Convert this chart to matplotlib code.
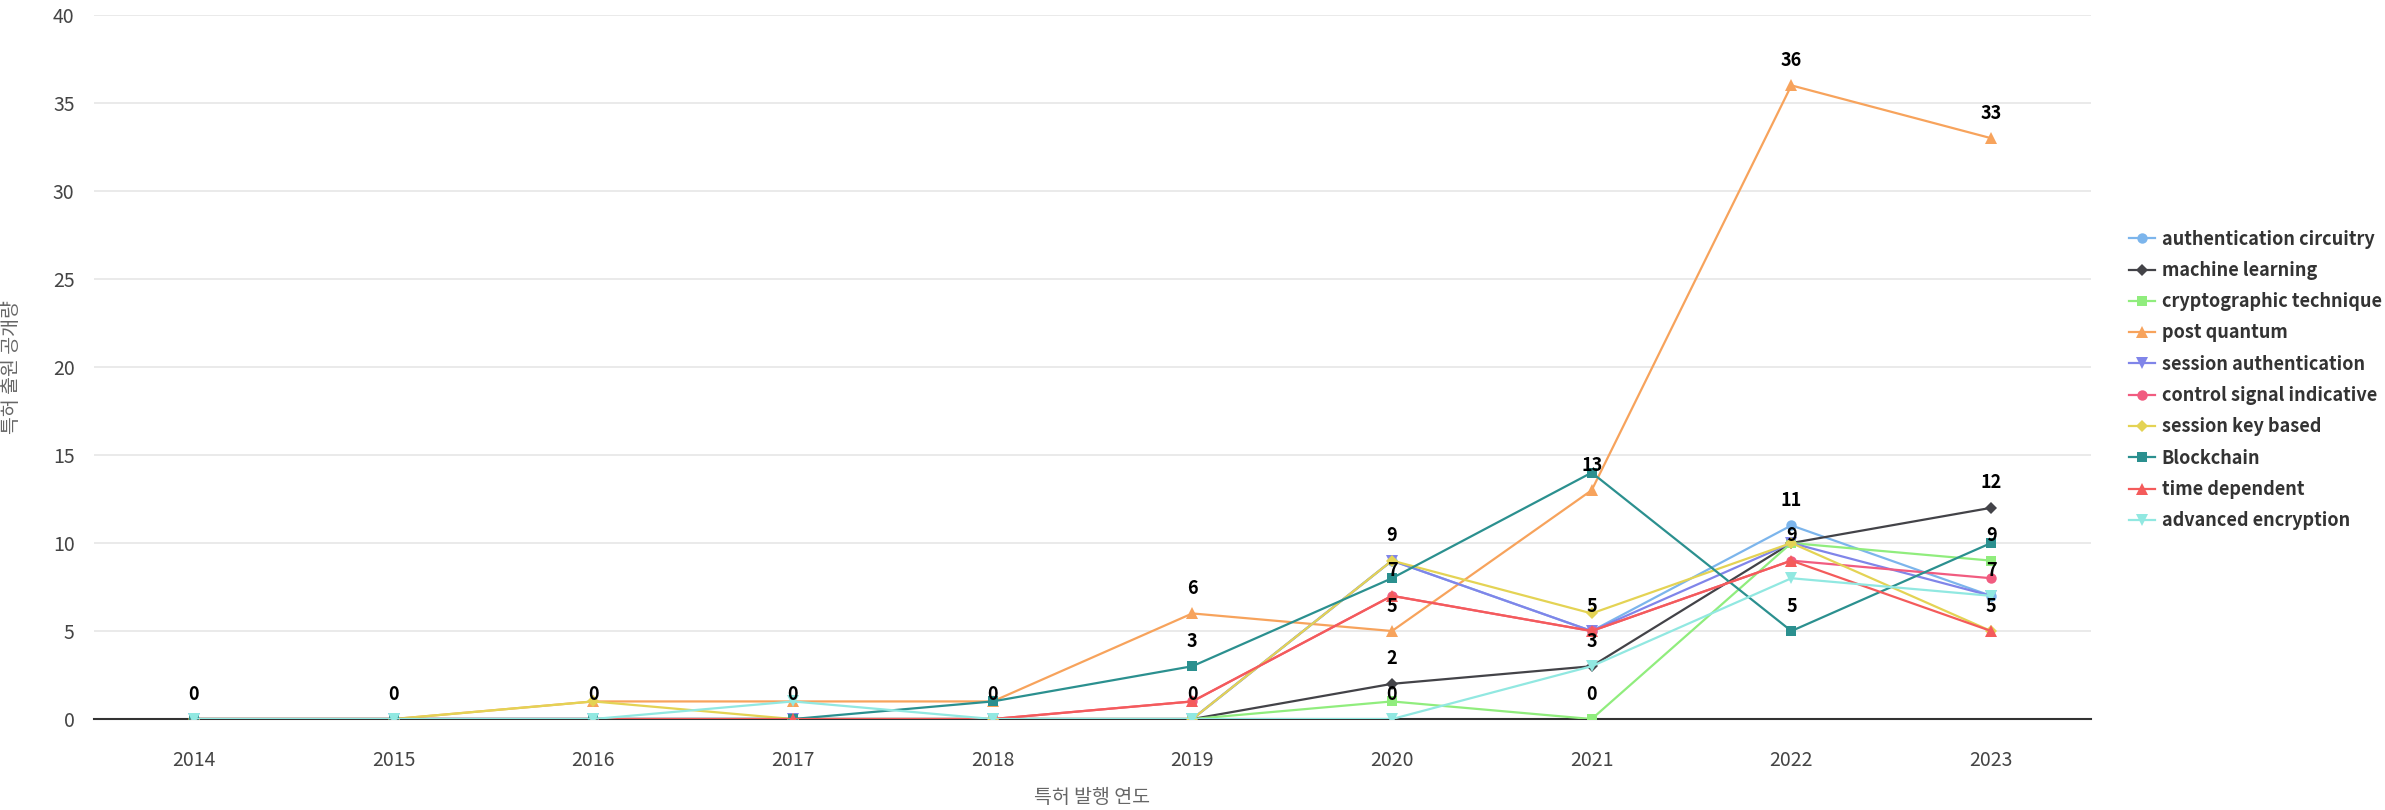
import numpy as np
import matplotlib.pyplot as plt

plt.rcParams['font.family'] = ['Noto Sans CJK KR', 'DejaVu Sans']

# data
years = ['2014', '2015', '2016', '2017', '2018', '2019', '2020', '2021', '2022', '2023']
auth_circuitry = [0, 0, 0, 0, 0, 0, 9, 5, 11, 7]
machine_learning = [0, 0, 0, 0, 0, 0, 2, 3, 10, 12]
crypto_technique = [0, 0, 0, 0, 0, 0, 1, 0, 10, 9]
post_quantum = [0, 0, 1, 1, 1, 6, 5, 13, 36, 33]
session_auth = [0, 0, 0, 0, 0, 0, 9, 5, 10, 7]
control_signal = [0, 0, 0, 0, 0, 1, 7, 5, 9, 8]
session_key = [0, 0, 1, 0, 0, 0, 9, 6, 10, 5]
blockchain = [0, 0, 0, 0, 1, 3, 8, 14, 5, 10]
time_dependent = [0, 0, 0, 0, 0, 1, 7, 5, 9, 5]
adv_encryption = [0, 0, 0, 1, 0, 0, 0, 3, 8, 7]

names = ['authentication circuitry', 'machine learning', 'cryptographic technique',
         'post quantum', 'session authentication', 'control signal indicative',
         'session key based', 'Blockchain', 'time dependent', 'advanced encryption']
series = [auth_circuitry, machine_learning, crypto_technique, post_quantum, session_auth,
          control_signal, session_key, blockchain, time_dependent, adv_encryption]
colors = ['#7cb5ec', '#434348', '#90ed7d', '#f7a35c', '#8085e9',
          '#f15c80', '#e4d354', '#2b908f', '#f45b5b', '#91e8e1']
markers = ['o', 'D', 's', '^', 'v', 'o', 'D', 's', '^', 'v']

# which series shows its data label in each year (others are hidden by overlap)
shown_labels = [
    ['authentication circuitry'],
    ['authentication circuitry'],
    ['authentication circuitry'],
    ['authentication circuitry'],
    ['authentication circuitry'],
    ['post quantum', 'Blockchain', 'authentication circuitry'],
    ['authentication circuitry', 'control signal indicative', 'post quantum',
     'machine learning', 'advanced encryption'],
    ['post quantum', 'authentication circuitry', 'machine learning', 'cryptographic technique'],
    ['post quantum', 'authentication circuitry', 'control signal indicative', 'Blockchain'],
    ['post quantum', 'machine learning', 'cryptographic technique',
     'authentication circuitry', 'time dependent'],
]

fig = plt.figure(figsize=(23.85, 8.1), dpi=100)
ax = fig.add_axes([0.0394, 0.1123, 0.8373, 0.8692])

x = np.arange(len(years))
for i, (name, vals) in enumerate(zip(names, series)):
    ms = 7.5 if markers[i] in ('o', 's') else 8
    if markers[i] == 'D':
        ms = 6
    ax.plot(x, vals, color=colors[i], marker=markers[i], markersize=ms, lw=1.6,
            label=name, zorder=3 + i, markeredgewidth=0)

for j, lst in enumerate(shown_labels):
    for name in lst:
        v = series[names.index(name)][j]
        ax.annotate(str(v), (x[j], v), xytext=(0, 18), textcoords='offset points',
                    ha='center', va='center', fontsize=13, fontweight='bold',
                    color='black', zorder=20)

ax.set_xlim(-0.5, len(years) - 0.5)
ax.set_ylim(0, 40)
ax.set_yticks(np.arange(0, 41, 5))
ax.set_xticks(x)
ax.set_xticklabels(years)
ax.grid(axis='y', color='#e6e6e6', lw=1.2)
ax.set_axisbelow(True)
for s in ['top', 'right', 'left']:
    ax.spines[s].set_visible(False)
ax.spines['bottom'].set_color('#333333')
ax.spines['bottom'].set_linewidth(1.5)
ax.spines['bottom'].set_zorder(2)
ax.tick_params(axis='both', length=0, labelsize=14, colors='#444444')
ax.tick_params(axis='x', pad=22)
ax.tick_params(axis='y', pad=14)

ax.set_xlabel('특허 발행 연도', fontsize=14, color='#666666', labelpad=12)
ax.set_ylabel('특허 출원 공개량', fontsize=14, color='#666666', labelpad=22)

leg = fig.legend(loc='center left', bbox_to_anchor=(0.886, 0.531), frameon=False,
                 handlelength=1.4, labelspacing=0.68, handletextpad=0.4,
                 prop={'weight': 'bold', 'size': 13})
for t in leg.get_texts():
    t.set_color('#333333')

fig.savefig('out.png', dpi=100)
